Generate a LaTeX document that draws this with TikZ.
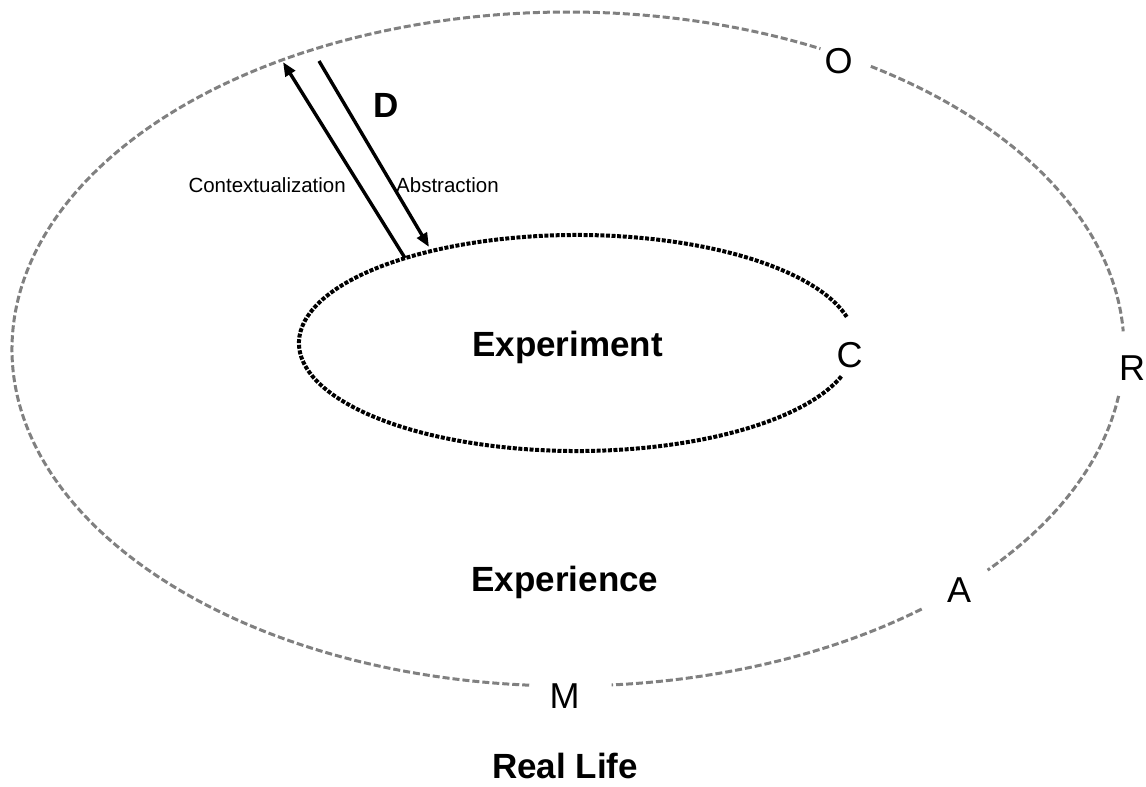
\documentclass[tikz,border=0pt]{standalone}
\usepackage{fontspec}
\setmainfont{Liberation Sans}
\usetikzlibrary{arrows.meta}
\definecolor{dashgray}{RGB}{128,128,128}
\begin{document}
\begin{tikzpicture}[x=1pt,y=-1pt,
  outerline/.style={draw=dashgray, line width=3pt, dash pattern=on 7pt off 3pt},
  innerline/.style={draw=black, line width=4pt, dash pattern=on 4pt off 1.6pt},
  arrowline/.style={draw=black, line width=3.4pt, -{Triangle[length=14pt,width=11pt]}},
  bigbold/.style={font=\fontsize{35}{35}\selectfont\bfseries, inner sep=0pt, anchor=base},
  letter/.style={font=\fontsize{36}{36}\selectfont, inner sep=0pt, anchor=base},
  small/.style={font=\fontsize{20.5}{20.5}\selectfont, inner sep=0pt, anchor=base}]
\useasboundingbox (0,0) rectangle (1146,787);
% ellipse centres
\coordinate (oc) at (568,349);
\coordinate (ic) at (577,343);
% outer ellipse with gaps at O, R, A, M
\draw[outerline] (oc) ++(-57:556 and 337) arc[start angle=-57, end angle=-3, x radius=556, y radius=337];
\draw[outerline] (oc) ++(8:556 and 337) arc[start angle=8, end angle=41, x radius=556, y radius=337];
\draw[outerline] (oc) ++(50.5:556 and 337) arc[start angle=50.5, end angle=85.5, x radius=556, y radius=337];
\draw[outerline] (oc) ++(94:556 and 337) arc[start angle=94, end angle=297, x radius=556, y radius=337];
% inner ellipse with gap at C
\draw[innerline] (ic) ++(18:278 and 108) arc[start angle=18, end angle=346, x radius=278, y radius=108];
% arrow end points
\coordinate (ctxS) at (405,258);
\coordinate (ctxE) at (283,62);
\coordinate (absS) at (319,61);
\coordinate (absE) at (429,247);
\draw[arrowline] (ctxS) -- (ctxE);
\draw[arrowline] (absS) -- (absE);
% labels
\node[small, anchor=base east] (ctx) at (346,192) {Contextualization};
\node[small, anchor=base west] (abs) at (396,192) {Abstraction};
\node[bigbold] (D) at (386,117) {D};
\node[letter] (O) at (838.5,73) {O};
\node[letter] (C) at (849.5,367) {C};
\node[letter] (R) at (1132,380) {R};
\node[letter] (A) at (959,602) {A};
\node[letter] (M) at (564.5,708) {M};
\node[bigbold] (exp) at (567.5,356) {Experiment};
\node[bigbold] (expc) at (565,591) {Experience};
\node[bigbold] (real) at (565,778) {Real Life};
\end{tikzpicture}
\end{document}
